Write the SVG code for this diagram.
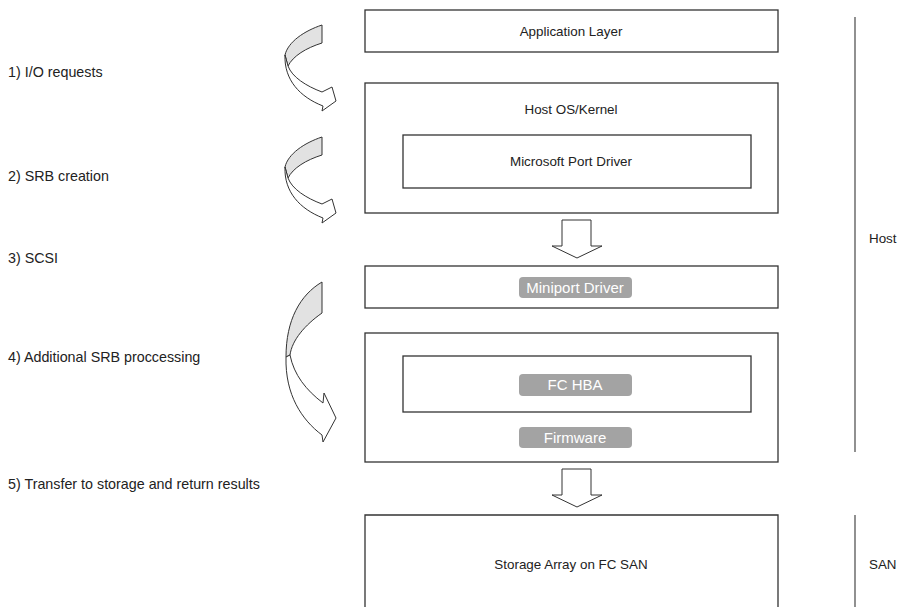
<svg xmlns="http://www.w3.org/2000/svg" width="911" height="607" viewBox="0 0 911 607">
<style>
text{font-family:"Liberation Sans",Arial,sans-serif;font-size:13.4px;fill:#222}
.lb{font-size:14.3px}
.box{fill:#fff;stroke:#333;stroke-width:1.3}
.pill{fill:#a3a3a3}
.pt{fill:#fff;text-anchor:middle;font-size:15px}
.c{text-anchor:middle}
.ar{fill:#fff;stroke:#333;stroke-width:1;stroke-linejoin:miter}
.gr{fill:#e2e2e2;stroke:#333;stroke-width:1}
.ln{stroke:#555;stroke-width:1.3;fill:none}
</style>
<rect width="911" height="607" fill="#fff"/>
<g id="labels">
<text class="lb" x="8" y="77">1) I/O requests</text>
<text class="lb" x="8" y="181">2) SRB creation</text>
<text class="lb" x="8" y="263">3) SCSI</text>
<text class="lb" x="8" y="362">4) Additional SRB proccessing</text>
<text class="lb" x="8" y="489">5) Transfer to storage and return results</text>
</g>
<g id="app"><rect class="box" x="365" y="10" width="413" height="42"/><text class="c" x="571" y="36">Application Layer</text></g>
<g id="host"><rect class="box" x="365" y="83" width="413" height="130"/><text class="c" x="571" y="114">Host OS/Kernel</text></g>
<g id="portdriver"><rect class="box" x="403" y="135" width="348" height="53"/><text class="c" x="571" y="166">Microsoft Port Driver</text></g>
<g id="miniport"><rect class="box" x="365" y="266" width="413" height="42"/><rect class="pill" x="519" y="277" width="113" height="21" rx="4"/><text class="pt" x="575" y="293">Miniport Driver</text></g>
<g id="hba"><rect class="box" x="365" y="333" width="413" height="129"/></g>
<g id="fchba"><rect class="box" x="403" y="356" width="348" height="56"/><rect class="pill" x="519" y="374" width="113" height="22" rx="4"/><text class="pt" x="575" y="390">FC HBA</text></g>
<g id="firmware"><rect class="pill" x="519" y="427" width="113" height="21" rx="4"/><text class="pt" x="575" y="443">Firmware</text></g>
<g id="storage"><path class="box" d="M365,607 V515 H778 V607"/><text class="c" x="571" y="569">Storage Array on FC SAN</text></g>
<g id="hostlabel"><line class="ln" x1="855" y1="17" x2="855" y2="452"/><text x="869" y="243">Host</text></g>
<g id="sanlabel"><line class="ln" x1="855" y1="515" x2="855" y2="607"/><text x="869" y="569">SAN</text></g>
<g id="connectors">
<path class="ar" d="M562,220 H591 V246 H602 L577,258 L552,246 H562 Z"/>
<path class="ar" d="M562,469 H591 V495 H602 L577,507 L552,495 H562 Z"/>
<g id="arrow1">
<path class="gr" d="M322,25 C304,31 288,42 285,55 L288,66 C293,56 306,48 322,43 Z"/>
<path class="ar" d="M285,55 C284,80 300,97 323,106 L322,111 L336,101 L332,87 L322,92 C306,86 292,77 288,66 Z"/>
</g>
<g id="arrow2" transform="translate(0,112)">
<path class="gr" d="M322,25 C304,31 288,42 285,55 L288,66 C293,56 306,48 322,43 Z"/>
<path class="ar" d="M285,55 C284,80 300,97 323,106 L322,111 L336,101 L332,87 L322,92 C306,86 292,77 288,66 Z"/>
</g>
<g id="arrow3">
<path class="gr" d="M322,282 C300,295 286,320 286,357 L290,355 C292,340 305,325 322,313 Z"/>
<path class="ar" d="M286,357 C285,395 302,420 322,435 L323,442 L336,418 L324,393 L323,403 C306,390 294,375 290,355 Z"/>
</g>
</g>
</svg>
